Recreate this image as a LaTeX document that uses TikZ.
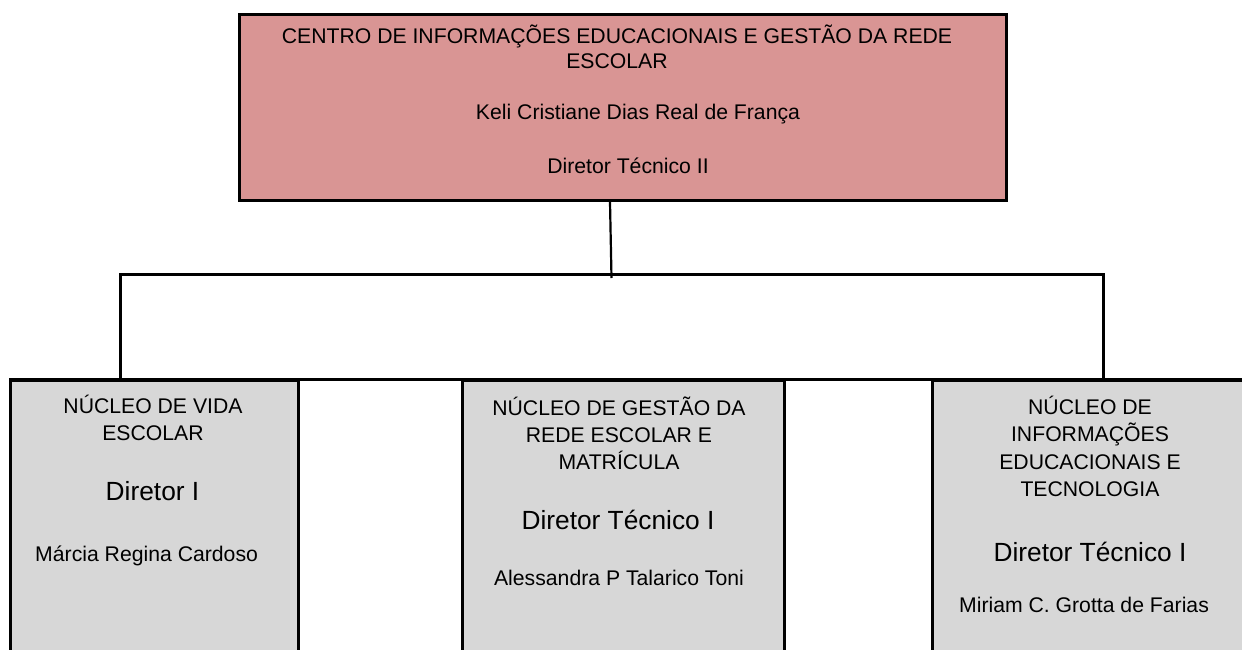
\documentclass[tikz,border=0pt]{standalone}
\usepackage{fontspec}
\setmainfont{Liberation Sans}
\definecolor{rosa}{RGB}{217,149,148}
\definecolor{cinza}{RGB}{215,215,215}
\tikzset{
  caixa/.style={draw,line width=3pt,anchor=north west,inner sep=0pt},
  linha/.style={line width=3pt},
  texto/.style={font=\fontsize{21.2}{27}\selectfont,align=center,anchor=base,inner sep=0pt},
  cargo/.style={font=\fontsize{26.3}{30}\selectfont,anchor=base,inner sep=0pt}
}

\begin{document}
\begin{tikzpicture}[x=1pt,y=-1pt]
  \useasboundingbox (0,0) rectangle (1242,650);
  \clip (0,0) rectangle (1242,650);
  \node[caixa,fill=rosa,minimum width=767pt,minimum height=186pt] (centro) at (238,13) {};
  \node[caixa,fill=cinza,minimum width=288pt,minimum height=330pt] (vida) at (9,379) {};
  \node[caixa,fill=cinza,minimum width=322pt,minimum height=330pt] (gestao) at (461,379) {};
  \node[caixa,fill=cinza,minimum width=330pt,minimum height=330pt] (info) at (931,379) {};
  \draw[linha] (vida.north west) -- (info.north east);

  \node[texto,font=\fontsize{21.2}{24.3}\selectfont] (tcentro) at (617,68.3) {CENTRO DE INFORMAÇÕES EDUCACIONAIS E GESTÃO DA REDE\\ESCOLAR};
  \node[texto] (tkeli) at (638,120) {Keli Cristiane Dias Real de França};
  \node[texto] (tdir2) at (628,173.3) {Diretor Técnico II};

  \node[texto] (tvida) at (153,440) {NÚCLEO DE VIDA\\ESCOLAR};
  \node[cargo] (cvida) at (152.5,500) {Diretor I};
  \node[texto] (nvida) at (146.6,561.7) {Márcia Regina Cardoso};

  \node[texto] (tgestao) at (619,469.3) {NÚCLEO DE GESTÃO DA\\REDE ESCOLAR E\\MATRÍCULA};
  \node[cargo] (cgestao) at (618,529) {Diretor Técnico I};
  \node[texto] (ngestao) at (619,585) {Alessandra P Talarico Toni};

  \node[texto,font=\fontsize{21.2}{27.5}\selectfont] (tinfo) at (1090,496.7) {NÚCLEO DE\\INFORMAÇÕES\\EDUCACIONAIS E\\TECNOLOGIA};
  \node[cargo] (cinfo) at (1090,561.7) {Diretor Técnico I};
  \node[texto] (ninfo) at (1084,612.3) {Miriam C. Grotta de Farias};

  \coordinate (topo) at (610,199);
  \coordinate (juncao) at (611.5,278);
  \coordinate (esq) at (120,274);
  \coordinate (dir) at (1103,274);
  \draw[line width=2.2pt] (centro.south -| topo) -- (juncao);
  \draw[linha] (esq |- vida.north) -- (esq) -- (dir) -- (dir |- info.north);
\end{tikzpicture}
\end{document}
